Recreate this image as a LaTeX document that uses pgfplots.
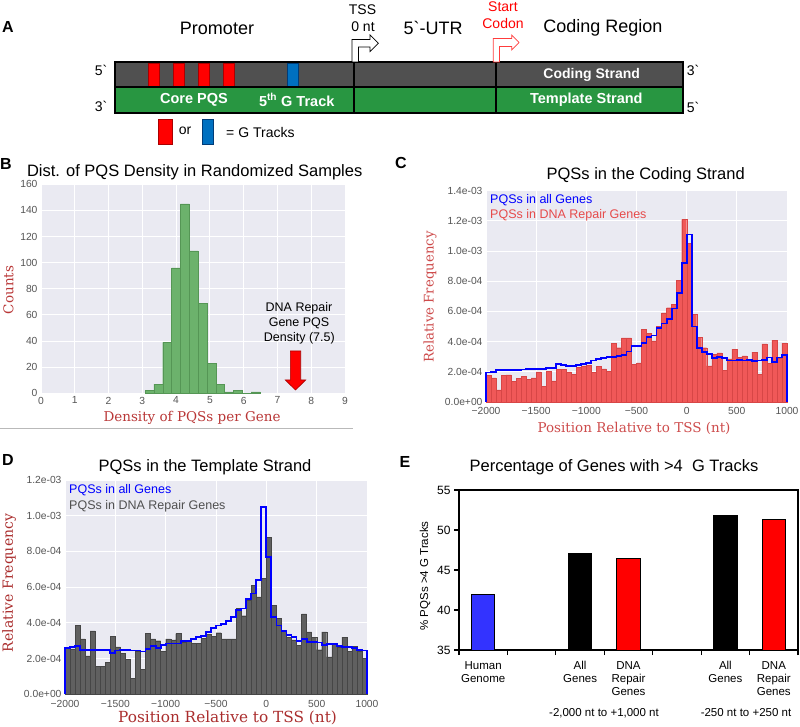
\documentclass[border=0pt]{standalone}
\usepackage{pgfplots}
\pgfplotsset{compat=1.18}
\usepackage{fontspec}
\setmainfont{Liberation Sans}
\newfontfamily\lblfont{DejaVu Serif}

\definecolor{sbbg}{RGB}{234,234,242}
\definecolor{tickgray}{RGB}{85,85,85}
\definecolor{hgreen}{RGB}{108,178,108}
\definecolor{hgreenE}{RGB}{85,150,85}
\definecolor{cred}{RGB}{240,88,88}
\definecolor{credE}{RGB}{215,70,70}
\definecolor{dgray}{RGB}{96,96,96}
\definecolor{dgrayE}{RGB}{70,70,70}
\definecolor{stepblue}{RGB}{0,0,255}
\definecolor{labB}{RGB}{185,55,55}
\definecolor{labC}{RGB}{205,75,75}
\definecolor{labD}{RGB}{170,45,45}
\definecolor{legred}{RGB}{230,75,75}
\definecolor{leggray}{RGB}{80,80,80}
\definecolor{barA}{RGB}{80,80,80}
\definecolor{barG}{RGB}{40,150,65}
\definecolor{gtred}{RGB}{255,0,0}
\definecolor{gtredE}{RGB}{170,0,0}
\definecolor{gtblue}{RGB}{0,112,192}
\definecolor{gtblueE}{RGB}{0,60,120}
\definecolor{Eblue}{RGB}{51,51,255}
\definecolor{arrred}{RGB}{255,60,60}
\definecolor{sepgray}{RGB}{185,185,185}

\pgfplotsset{
  sb/.style={
    scale only axis,
    anchor=south west,
    axis background/.style={fill=sbbg},
    axis line style={draw=none},
    major tick length=0pt,
    grid=major,
    major grid style={white, line width=0.9pt},
    tick label style={font=\fontsize{10.3}{12}\selectfont, text=tickgray},
    /pgf/number format/assume math mode=true,
  }
}

\begin{document}
\begin{tikzpicture}
\useasboundingbox (0pt,0pt) rectangle (800pt,726pt);

% ---------------- Panel B ----------------
\begin{axis}[sb, at={(41pt,332.7pt)}, width=304pt, height=209pt,
  xmin=0, xmax=9, ymin=0, ymax=160,
  xtick={0,1,2,3,4,5,6,7,8,9}, ytick={0,20,40,60,80,100,120,140,160}]
\addplot[ybar interval, fill=hgreen, draw=hgreenE, line width=0.4pt] coordinates {
(3.080,2) (3.342,7) (3.604,39) (3.866,96) (4.128,145) (4.390,109) (4.652,69)
(4.914,23) (5.176,7) (5.438,1) (5.700,2) (5.962,0) (6.224,1) (6.486,1)};
\end{axis}

% ---------------- Panel C ----------------
\begin{axis}[sb, at={(486pt,324pt)}, width=301pt, height=211.3pt, clip=false,
  xmin=-2000, xmax=1000, ymin=0, ymax=14,
  xtick={-2000,-1500,-1000,-500,0,500,1000},
  xticklabels={−2000,−1500,−1000,−500,0,500,1000},
  xticklabel style={yshift=-2pt},
  ytick={0,2,4,6,8,10,12,14},
  yticklabels={0.0e+00,2.0e-04,4.0e-04,6.0e-04,8.0e-04,1.0e-03,1.2e-03,1.4e-03}]
\addplot[ybar interval, fill=cred, draw=credE, line width=0.3pt] coordinates {
(-2000,1.75) (-1950,1.6) (-1900,0.8) (-1850,1.75) (-1800,1.8) (-1750,1.35)
(-1700,1.55) (-1650,1.7) (-1600,1.5) (-1550,1.6) (-1500,2.0) (-1450,1.05)
(-1400,2.05) (-1350,1.4) (-1300,2.15) (-1250,2.15) (-1200,2.0) (-1150,1.85)
(-1100,2.3) (-1050,2.4) (-1000,2.45) (-950,1.95) (-900,2.35) (-850,2.2)
(-800,2.05) (-750,3.9) (-700,3.6) (-650,4.25) (-600,4.25) (-550,2.5)
(-500,2.6) (-450,4.8) (-400,4.55) (-350,4.05) (-300,5.0) (-250,5.9)
(-200,6.25) (-150,6.45) (-100,8.05) (-50,12.1) (0,10.5) (50,5.8)
(100,4.3) (150,3.6) (200,2.4) (250,3.15) (300,3.25) (350,2.1)
(400,2.85) (450,3.5) (500,2.95) (550,3.05) (600,2.8) (650,3.3)
(700,1.85) (750,3.85) (800,2.55) (850,4.1) (900,2.9) (950,3.9) (1000,3.9)};
\addplot[const plot, stepblue, line width=1.8pt] coordinates {
(-2000,0) (-2000,1.95) (-1950,2.0) (-1900,2.1) (-1850,2.1) (-1800,2.1) (-1750,2.1)
(-1700,2.1) (-1650,2.15) (-1600,2.2) (-1550,2.2) (-1500,2.2) (-1450,2.2)
(-1400,2.25) (-1350,2.25) (-1300,2.5) (-1250,2.45) (-1200,2.4) (-1150,2.4)
(-1100,2.45) (-1050,2.5) (-1000,2.6) (-950,2.75) (-900,2.85) (-850,2.9)
(-800,3.0) (-750,3.0) (-700,3.05) (-650,3.1) (-600,3.35) (-550,3.7)
(-500,3.7) (-450,3.9) (-400,4.3) (-350,4.4) (-300,4.9) (-250,5.2)
(-200,5.5) (-150,6.2) (-100,7.2) (-50,9.2) (0,11.1) (50,5.0)
(100,3.6) (150,3.3) (200,3.2) (250,2.9) (300,3.0) (350,2.9)
(400,2.75) (450,2.75) (500,2.8) (550,2.75) (600,2.8) (650,2.7)
(700,2.75) (750,2.8) (800,2.95) (850,2.65) (900,2.95) (950,3.1) (1000,3.1) (1000,0)};
\end{axis}

% ---------------- Panel D ----------------
\begin{axis}[sb, at={(65pt,31.7pt)}, width=302pt, height=214.3pt, clip=false,
  xmin=-2000, xmax=1000, ymin=0, ymax=12,
  xtick={-2000,-1500,-1000,-500,0,500,1000},
  xticklabels={−2000,−1500,−1000,−500,0,500,1000},
  xticklabel style={yshift=-2.5pt},
  ytick={0,2,4,6,8,10,12},
  yticklabels={0.0e+00,2.0e-04,4.0e-04,6.0e-04,8.0e-04,1.0e-03,1.2e-03}]
\addplot[ybar interval, fill=dgray, draw=dgrayE, line width=0.3pt] coordinates {
(-2000,2.6) (-1950,2.55) (-1900,3.85) (-1850,3.1) (-1800,2.15) (-1750,3.55)
(-1700,1.55) (-1650,1.55) (-1600,1.8) (-1550,3.25) (-1500,2.65) (-1450,2.3)
(-1400,1.95) (-1350,0.9) (-1300,2.4) (-1250,1.4) (-1200,3.4) (-1150,3.1)
(-1100,3.0) (-1050,2.4) (-1000,3.1) (-950,3.05) (-900,3.4) (-850,2.9)
(-800,3.0) (-750,2.85) (-700,2.85) (-650,3.15) (-600,3.35) (-550,3.25)
(-500,3.45) (-450,3.1) (-400,3.1) (-350,3.1) (-300,4.8) (-250,4.4)
(-200,5.3) (-150,6.1) (-100,5.45) (-50,6.5) (0,8.8) (50,5.0)
(100,4.25) (150,3.6) (200,3.2) (250,3.05) (300,2.75) (350,4.5)
(400,3.5) (450,3.2) (500,2.5) (550,3.5) (600,2.1) (650,2.85)
(700,2.65) (750,3.2) (800,2.4) (850,2.7) (900,2.4) (950,2.0) (1000,2.0)};
\addplot[const plot, stepblue, line width=1.8pt] coordinates {
(-2000,0) (-2000,2.6) (-1950,2.65) (-1900,2.7) (-1850,2.5) (-1800,2.5) (-1750,2.5)
(-1700,2.5) (-1650,2.5) (-1600,2.5) (-1550,2.3) (-1500,2.45) (-1450,2.5)
(-1400,2.5) (-1350,2.45) (-1300,2.45) (-1250,2.4) (-1200,2.55) (-1150,2.7)
(-1100,2.6) (-1050,2.75) (-1000,2.85) (-950,2.85) (-900,2.85) (-850,3.0)
(-800,3.0) (-750,3.1) (-700,3.2) (-650,3.25) (-600,3.5) (-550,3.7)
(-500,3.85) (-450,3.95) (-400,4.1) (-350,4.35) (-300,4.7) (-250,4.8)
(-200,5.35) (-150,5.65) (-100,6.4) (-50,10.5) (0,7.7) (50,4.35)
(100,3.85) (150,3.55) (200,3.3) (250,3.2) (300,3.0) (350,3.1)
(400,2.95) (450,2.95) (500,2.9) (550,2.75) (600,2.8) (650,2.8)
(700,2.7) (750,2.65) (800,2.65) (850,2.6) (900,2.5) (950,2.45) (1000,2.45) (1000,0)};
\end{axis}

% ---------------- Panel E ----------------
\begin{axis}[scale only axis, anchor=south west, at={(459pt,76pt)}, width=339pt, height=160pt,
  xmin=-0.5, xmax=6.5, ymin=35, ymax=55,
  xtick={-0.5,0.5,1.5,2.5,3.5,4.5,5.5,6.5}, xticklabels={},
  ytick={35,40,45,50,55},
  tick align=outside, tick pos=left, major tick length=5pt,
  tick style={black, line width=1.2pt},
  axis line style={black, line width=1.6pt},
  yticklabel style={font=\fontsize{12}{14}\selectfont},
  /pgf/number format/assume math mode=true,
  bar width=0.48]
\addplot[ybar, bar shift=0pt, fill=Eblue, draw=black, line width=0.8pt] coordinates {(0,42.0)};
\addplot[ybar, bar shift=0pt, fill=black, draw=black, line width=0.8pt] coordinates {(2,47.1) (5,51.8)};
\addplot[ybar, bar shift=0pt, fill=red, draw=black, line width=0.8pt] coordinates {(3,46.5) (6,51.3)};
\end{axis}

% ---------------- Annotations (pixel coordinates from top-left) ----------------
\begin{scope}[shift={(0pt,726pt)}, x=1pt, y=-1pt]
% Panel A
\node[font=\fontsize{16}{18}\selectfont\bfseries] at (8,27) {A};
\node[font=\fontsize{18}{20}\selectfont] at (217,28) {Promoter};
\node[font=\fontsize{14}{16}\selectfont] at (362.5,10) {TSS};
\node[font=\fontsize{14}{16}\selectfont] at (363,27) {0 nt};
\node[font=\fontsize{18}{20}\selectfont] at (433,28) {5\textasciigrave-UTR};
\node[font=\fontsize{14}{16}\selectfont, text=red] at (503,7) {Start};
\node[font=\fontsize{14}{16}\selectfont, text=red] at (503,24) {Codon};
\node[font=\fontsize{18}{20}\selectfont] at (603,28) {Coding Region};
\fill[barA] (115,62) rectangle (683,87);
\fill[barG] (115,87) rectangle (683,113);
\foreach \a in {148,173,198,223}
  \filldraw[fill=gtred, draw=gtredE, line width=0.5pt] (\a,63.5) rectangle (\a+11.5,86);
\filldraw[fill=gtblue, draw=gtblueE, line width=0.5pt] (287,63.5) rectangle (298.5,86);
\draw[line width=2pt] (115,62) rectangle (683,113);
\draw[line width=2pt] (115,87) -- (683,87);
\draw[line width=2pt] (354,62) -- (354,113);
\draw[line width=2pt] (496,62) -- (496,113);
\filldraw[fill=white, draw=black, line width=0.7pt]
  (352,62) -- (352,39.5) -- (370,39.5) -- (370,35) -- (378.3,43.3) -- (370,51.6) -- (370,47) -- (358.5,47) -- (358.5,62) -- cycle;
\filldraw[fill=white, draw=arrred, line width=0.7pt]
  (493.3,62) -- (493.3,38.5) -- (511.7,38.5) -- (511.7,35) -- (519,42.5) -- (511.7,50) -- (511.7,46.5) -- (499.5,46.5) -- (499.5,62) -- cycle;
\node[font=\fontsize{14}{16}\selectfont] at (101,70) {5\textasciigrave};
\node[font=\fontsize{14}{16}\selectfont] at (101,106) {3\textasciigrave};
\node[font=\fontsize{14}{16}\selectfont] at (693,70) {3\textasciigrave};
\node[font=\fontsize{14}{16}\selectfont] at (693,107) {5\textasciigrave};
\node[font=\fontsize{14}{16}\selectfont\bfseries, text=white] at (591.7,75) {Coding Strand};
\node[font=\fontsize{14.5}{16}\selectfont\bfseries, text=white] at (586.3,100) {Template Strand};
\node[font=\fontsize{14.5}{16}\selectfont\bfseries, text=white] at (194,100) {Core PQS};
\node[font=\fontsize{14.5}{16}\selectfont\bfseries, text=white] at (296.7,100) {5\textsuperscript{th} G Track};
\filldraw[fill=gtred, draw=gtredE, line width=0.5pt] (158,119) rectangle (172,144);
\node[font=\fontsize{14}{16}\selectfont] at (185,131) {or};
\filldraw[fill=gtblue, draw=gtblueE, line width=0.5pt] (202,119) rectangle (213,144);
\node[font=\fontsize{14}{16}\selectfont, anchor=west, inner sep=0] at (226,133) {= G Tracks};

% Panel B
\node[font=\fontsize{16}{18}\selectfont\bfseries] at (6,164) {B};
\node[font=\fontsize{16.5}{18}\selectfont] at (194.7,172) {Dist. of PQS Density in Randomized Samples};
\node[font=\lblfont\fontsize{13.5}{15}\selectfont, text=labB, rotate=90] at (8.5,290) {Counts};
\node[font=\lblfont\fontsize{13.5}{15}\selectfont, text=labB] at (192,418) {Density of PQSs per Gene};
\draw[sepgray, line width=1pt] (0,428.5) -- (353,428.5);
\node[font=\fontsize{12.5}{14}\selectfont] at (299,308.3) {DNA Repair};
\node[font=\fontsize{12.5}{14}\selectfont] at (299,323.3) {Gene PQS};
\node[font=\fontsize{12.5}{14}\selectfont] at (299.3,338.3) {Density (7.5)};
\filldraw[fill=red, draw=gtredE, line width=0.6pt]
  (290.3,351) -- (300.7,351) -- (300.7,380) -- (305.7,380) -- (295.5,390) -- (285.3,380) -- (290.3,380) -- cycle;

% Panel C
\node[font=\fontsize{16}{18}\selectfont\bfseries] at (401,163) {C};
\node[font=\fontsize{16.5}{18}\selectfont] at (645.7,175) {PQSs in the Coding Strand};
\node[font=\fontsize{12.5}{14}\selectfont, text=stepblue, anchor=west, inner sep=0] at (490,200) {PQSs in all Genes};
\node[font=\fontsize{12.5}{14}\selectfont, text=legred, anchor=west, inner sep=0] at (490,215) {PQSs in DNA Repair Genes};
\node[font=\lblfont\fontsize{13.3}{15}\selectfont, text=labC, rotate=90] at (430,297) {Relative Frequency};
\node[font=\lblfont\fontsize{13.5}{15}\selectfont, text=labC] at (634,428) {Position Relative to TSS (nt)};

% Panel D
\node[font=\fontsize{16}{18}\selectfont\bfseries] at (8,460) {D};
\node[font=\fontsize{16.5}{18}\selectfont] at (205,467) {PQSs in the Template Strand};
\node[font=\fontsize{12.5}{14}\selectfont, text=stepblue, anchor=west, inner sep=0] at (69,490) {PQSs in all Genes};
\node[font=\fontsize{12.5}{14}\selectfont, text=leggray, anchor=west, inner sep=0] at (69,506) {PQSs in DNA Repair Genes};
\node[font=\lblfont\fontsize{14}{16}\selectfont, text=labD, rotate=90] at (9,583) {Relative Frequency};
\node[font=\lblfont\fontsize{15.3}{17}\selectfont, text=labD] at (227.5,718) {Position Relative to TSS (nt)};

% Panel E
\node[font=\fontsize{16}{18}\selectfont\bfseries] at (405,462) {E};
\node[font=\fontsize{16.5}{18}\selectfont] at (614,467) {Percentage of Genes with >4~ G Tracks};
\node[font=\fontsize{11.5}{13.5}\selectfont, rotate=90] at (425,576) {\% PQSs >4 G Tracks};
\node[font=\fontsize{11.5}{13}\selectfont, align=center, anchor=north, inner sep=0] at (483.2,661) {Human\\Genome};
\node[font=\fontsize{11.5}{13}\selectfont, align=center, anchor=north, inner sep=0] at (580.1,661) {All\\Genes};
\node[font=\fontsize{11.5}{13}\selectfont, align=center, anchor=north, inner sep=0] at (628.5,661) {DNA\\Repair\\Genes};
\node[font=\fontsize{11.5}{13}\selectfont, align=center, anchor=north, inner sep=0] at (725.4,661) {All\\Genes};
\node[font=\fontsize{11.5}{13}\selectfont, align=center, anchor=north, inner sep=0] at (773.8,661) {DNA\\Repair\\Genes};
\node[font=\fontsize{11.5}{13}\selectfont] at (604,713) {-2,000 nt to +1,000 nt};
\node[font=\fontsize{11.5}{13}\selectfont] at (746,713) {-250 nt to +250 nt};
\end{scope}
\end{tikzpicture}
\end{document}
